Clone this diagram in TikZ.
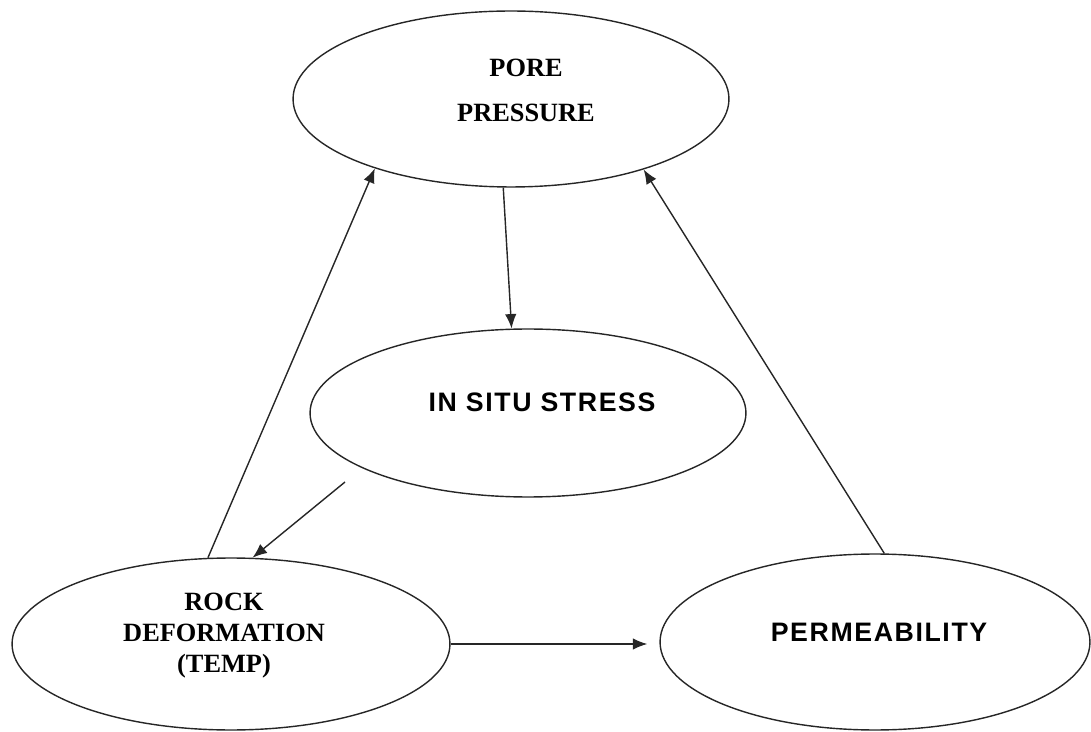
\documentclass[tikz,border=0pt]{standalone}
\usepackage{fontspec}
\setmainfont{Liberation Serif}
\newfontfamily\headsans[LetterSpace=6]{Liberation Sans}
\usetikzlibrary{shapes.geometric,arrows.meta}
\begin{document}
\begin{tikzpicture}[x=0.02cm,y=-0.02cm,
  bubble/.style={ellipse,draw=black!85,line width=0.8pt,inner sep=0pt},
  serifword/.style={align=center,font=\bfseries\fontsize{15}{17.6}\selectfont},
  sansword/.style={font=\headsans\bfseries\fontsize{15.2}{18}\selectfont},
  link/.style={draw=black!85,line width=0.8pt,-{Latex[length=2.9mm,width=2.3mm]}}]
\useasboundingbox (0,0) rectangle (1091,732);
% the four ellipses
\node[bubble,minimum width=8.72cm,minimum height=3.52cm] (pore) at (511,99) {};
\node[bubble,minimum width=8.72cm,minimum height=3.36cm] (insitu) at (528,413) {};
\node[bubble,minimum width=8.76cm,minimum height=3.44cm] (rock) at (231,644) {};
\node[bubble,minimum width=8.6cm,minimum height=3.52cm] (perm) at (875,642) {};
% their texts
\node[serifword,font=\bfseries\fontsize{15}{25.6}\selectfont] (poretext) at (526,90) {PORE\\PRESSURE};
\node[sansword] (insitutext) at (542,402) {IN SITU STRESS};
\node[serifword] (rocktext) at (224,636) {ROCK\\DEFORMATION\\(TEMP)};
\node[sansword] (permtext) at (879,632) {PERMEABILITY};
% arrows
\coordinate (stressfoot) at (345,482);
\draw[link] (pore.-95) -- (insitu.101);
\draw[link] (stressfoot) -- (rock.76);
\draw[link] (rock.105) -- (pore.-153);
\draw[link,shorten >=0.24cm] (rock.east) -- (rock.east -| perm.west);
\draw[link] (perm.84) -- (pore.-28);
\end{tikzpicture}
\end{document}
